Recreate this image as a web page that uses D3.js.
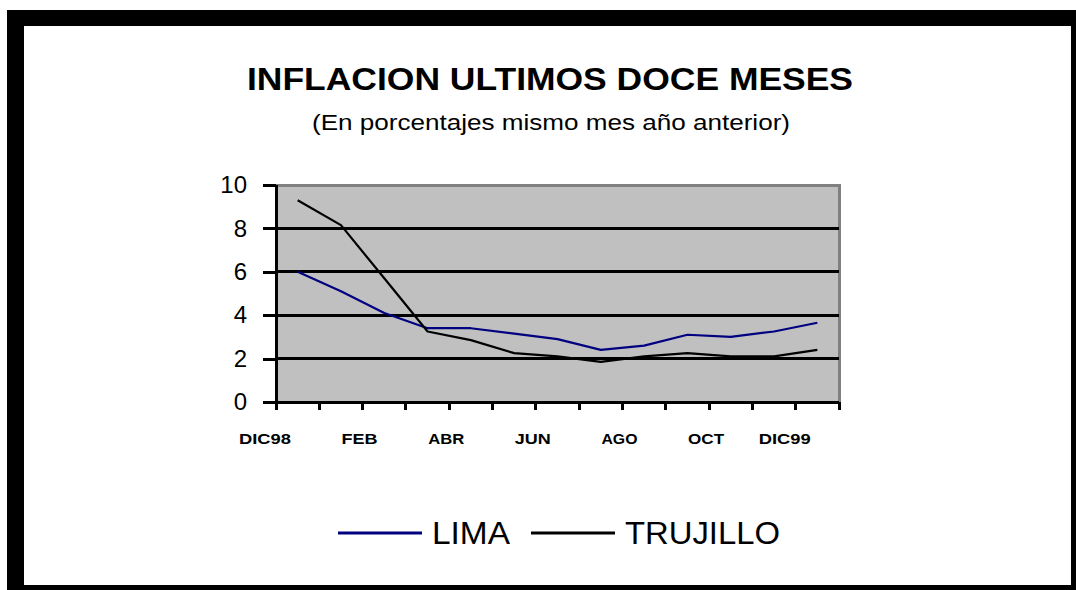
<!DOCTYPE html>
<html><head><meta charset="utf-8">
<script src="https://cdn.jsdelivr.net/npm/d3@7"></script>
<style>html,body{margin:0;padding:0;background:#fff;overflow:hidden}</style>
</head><body>
<svg id="c" width="1076" height="590"></svg>
<script>
const months = ["DIC98","ENE","FEB","MAR","ABR","MAY","JUN","JUL","AGO","SET","OCT","NOV","DIC99"];
const tickLabels = ["DIC98","FEB","ABR","JUN","AGO","OCT","DIC99"];
const lima = [6.0, 5.1, 4.1, 3.4, 3.4, 3.15, 2.9, 2.4, 2.6, 3.1, 3.0, 3.25, 3.65];
const trujillo = [9.3, 8.15, 5.7, 3.25, 2.85, 2.25, 2.1, 1.85, 2.1, 2.25, 2.1, 2.1, 2.4];
const yTicks = [0, 2, 4, 6, 8, 10];
const seriesNames = ["LIMA", "TRUJILLO"];
const seriesColors = ["#000080", "#000000"];

const svg = d3.select("#c");
// frame
svg.append("rect").attr("x",7).attr("y",10).attr("width",1069).attr("height",580).attr("fill","#000");
svg.append("rect").attr("x",24).attr("y",26).attr("width",1047).attr("height",559).attr("fill","#fff");

// titles
svg.append("text").attr("x",550).attr("y",90).attr("text-anchor","middle")
  .attr("font-family","Liberation Sans, Arial, sans-serif").attr("font-weight","bold").attr("font-size",32)
  .attr("textLength",606).attr("lengthAdjust","spacingAndGlyphs")
  .text("INFLACION ULTIMOS DOCE MESES");
svg.append("text").attr("x",551).attr("y",130).attr("text-anchor","middle")
  .attr("font-family","Liberation Sans, Arial, sans-serif").attr("font-size",22)
  .attr("textLength",478).attr("lengthAdjust","spacingAndGlyphs")
  .text("(En porcentajes mismo mes año anterior)");

const L=276, R=839, T=185, B=402;
const x = d3.scaleBand().domain(months).range([L, R]).paddingInner(0).paddingOuter(0);
const y = d3.scaleLinear().domain([0,10]).range([B, T]);

// plot area
svg.append("rect").attr("x",L).attr("y",T).attr("width",R-L).attr("height",B-T).attr("fill","#c0c0c0");
svg.append("path").attr("d",`M${L},${T}H${R}V${B}`).attr("fill","none").attr("stroke","#808080").attr("stroke-width",3).attr("shape-rendering","crispEdges");

// gridlines
svg.append("g").selectAll("line").data(yTicks.filter(v=>v>0 && v<10)).join("line")
  .attr("x1",L).attr("x2",R).attr("y1",d=>y(d)).attr("y2",d=>y(d))
  .attr("stroke","#000").attr("stroke-width",3).attr("shape-rendering","crispEdges");

// y axis
const yAxis = d3.axisLeft(y).tickValues(yTicks).tickSize(13).tickPadding(16).tickFormat(d3.format("d"));
const gy = svg.append("g").attr("transform",`translate(${L},0)`).call(yAxis);
gy.select(".domain").remove();
gy.selectAll(".tick line").attr("stroke","#000").attr("stroke-width",3).attr("shape-rendering","crispEdges");
gy.selectAll(".tick text").attr("font-family","Liberation Sans, Arial, sans-serif").attr("font-size",24).attr("fill","#000");
svg.append("line").attr("x1",L).attr("x2",L).attr("y1",T).attr("y2",B+8).attr("stroke","#000").attr("stroke-width",3).attr("shape-rendering","crispEdges");

// x axis: ticks at band boundaries
const boundaries = months.map(m=>x(m)).concat([R]);
svg.append("g").selectAll("line").data(boundaries).join("line")
  .attr("x1",d=>d).attr("x2",d=>d).attr("y1",B).attr("y2",B+8)
  .attr("stroke","#000").attr("stroke-width",3).attr("shape-rendering","crispEdges");
svg.append("line").attr("x1",L-13).attr("x2",R).attr("y1",B).attr("y2",B).attr("stroke","#000").attr("stroke-width",3).attr("shape-rendering","crispEdges");

svg.append("g").selectAll("text").data(tickLabels).join("text")
  .attr("x",(d,i)=> x(d) - (d.startsWith("DIC") ? 11 : 3))
  .attr("y",444).attr("text-anchor","middle")
  .attr("font-family","Liberation Sans, Arial, sans-serif").attr("font-weight","bold").attr("font-size",15)
  .attr("textLength",d=> d.length===5 ? 52 : 36).attr("lengthAdjust","spacingAndGlyphs")
  .text(d=>d);

// lines
const line = d3.line().x((d,i)=>x(months[i]) + x.bandwidth()/2).y(d=>y(d));
[lima, trujillo].forEach((s,k)=>{
  svg.append("path").datum(s).attr("d",line).attr("fill","none")
    .attr("stroke",seriesColors[k]).attr("stroke-width",2.2).attr("stroke-linejoin","round");
});

// legend
const legX = [338, 531];
const legTextW = [78, 155];
seriesNames.forEach((n,k)=>{
  svg.append("line").attr("x1",legX[k]).attr("x2",legX[k]+84).attr("y1",533).attr("y2",533)
    .attr("stroke",seriesColors[k]).attr("stroke-width",3);
  svg.append("text").attr("x",legX[k]+94).attr("y",544)
    .attr("font-family","Liberation Sans, Arial, sans-serif").attr("font-size",32)
    .attr("textLength",legTextW[k]).attr("lengthAdjust","spacingAndGlyphs")
    .text(n);
});
</script>
</body></html>
